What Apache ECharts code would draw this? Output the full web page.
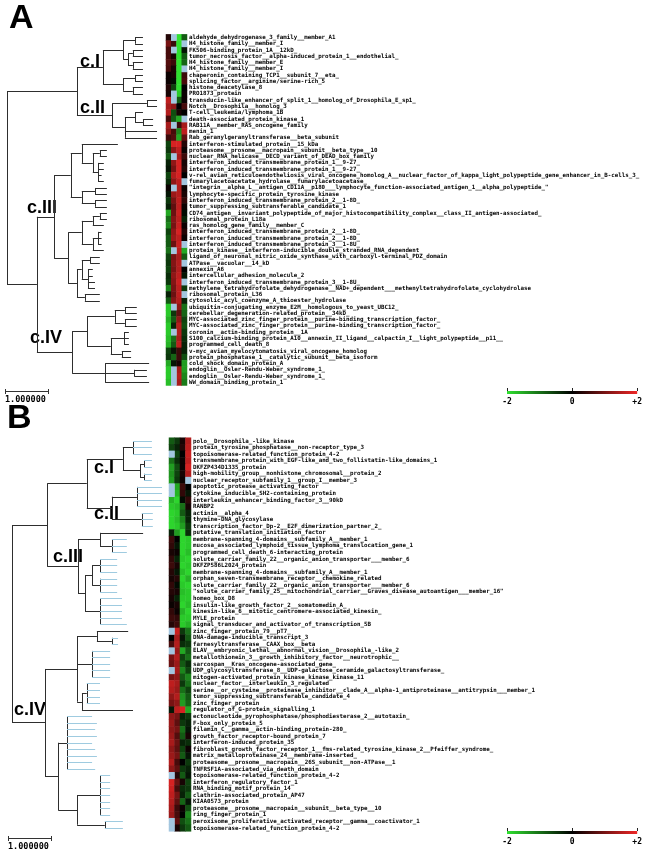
<!DOCTYPE html>
<html><head><meta charset="utf-8">
<script src="https://cdn.jsdelivr.net/npm/echarts@6/dist/echarts.min.js"></script>
<style>html,body{margin:0;padding:0;background:#fff}#c{width:645px;height:853px}</style>
</head><body><div id="c"></div>
<script>
// ---------------- DATA ----------------
const genesA = [
"aldehyde_dehydrogenase_3_family__member_A1","H4_histone_family__member_I","FK506-binding_protein_1A__12kD_",
"tumor_necrosis_factor__alpha-induced_protein_1__endothelial_","H4_histone_family__member_E","H4_histone_family__member_I",
"chaperonin_containing_TCP1__subunit_7__eta_","splicing_factor__arginine/serine-rich_5","histone_deacetylase_8","PRO1873_protein",
"transducin-like_enhancer_of_split_1__homolog_of_Drosophila_E_sp1_","Notch__Drosophila__homolog_3","T-cell_leukemia/lymphoma_1B",
"death-associated_protein_kinase_1","RAB11A__member_RAS_oncogene_family","menin_1","Rab_geranylgeranyltransferase__beta_subunit",
"interferon-stimulated_protein__15_kDa","proteasome__prosome__macropain__subunit__beta_type__10",
"nuclear_RNA_helicase__DECD_variant_of_DEAD_box_family","interferon_induced_transmembrane_protein_1__9-27_",
"interferon_induced_transmembrane_protein_1__9-27_",
"v-rel_avian_reticuloendotheliosis_viral_oncogene_homolog_A__nuclear_factor_of_kappa_light_polypeptide_gene_enhancer_in_B-cells_3_",
"fumarylacetoacetate_hydrolase__fumarylacetoacetase_",
"\"integrin__alpha_L__antigen_CD11A__p180___lymphocyte_function-associated_antigen_1__alpha_polypeptide_\"",
"lymphocyte-specific_protein_tyrosine_kinase","interferon_induced_transmembrane_protein_2__1-8D_",
"tumor_suppressing_subtransferable_candidate_1",
"CD74_antigen__invariant_polypeptide_of_major_histocompatibility_complex__class_II_antigen-associated_",
"ribosomal_protein_L18a","ras_homolog_gene_family__member_C","interferon_induced_transmembrane_protein_2__1-8D_",
"interferon_induced_transmembrane_protein_2__1-8D_","interferon_induced_transmembrane_protein_3__1-8U_",
"protein_kinase__interferon-inducible_double_stranded_RNA_dependent",
"ligand_of_neuronal_nitric_oxide_synthase_with_carboxyl-terminal_PDZ_domain","ATPase__vacuolar__14_kD","annexin_A6",
"intercellular_adhesion_molecule_2","interferon_induced_transmembrane_protein_3__1-8U_",
"methylene_tetrahydrofolate_dehydrogenase__NAD+_dependent___methenyltetrahydrofolate_cyclohydrolase",
"ribosomal_protein_L36","cytosolic_acyl_coenzyme_A_thioester_hydrolase",
"ubiquitin-conjugating_enzyme_E2M__homologous_to_yeast_UBC12_","cerebellar_degeneration-related_protein__34kD_",
"MYC-associated_zinc_finger_protein__purine-binding_transcription_factor_",
"MYC-associated_zinc_finger_protein__purine-binding_transcription_factor_","coronin__actin-binding_protein__1A",
"S100_calcium-binding_protein_A10__annexin_II_ligand__calpactin_I__light_polypeptide__p11__","programmed_cell_death_8",
"v-myc_avian_myelocytomatosis_viral_oncogene_homolog","protein_phosphatase_1__catalytic_subunit__beta_isoform",
"cold_shock_domain_protein_A","endoglin__Osler-Rendu-Weber_syndrome_1_","endoglin__Osler-Rendu-Weber_syndrome_1_",
"WW_domain_binding_protein_1"];

const genesB = [
"polo__Drosophila_-like_kinase","protein_tyrosine_phosphatase__non-receptor_type_3","topoisomerase-related_function_protein_4-2",
"transmembrane_protein_with_EGF-like_and_two_follistatin-like_domains_1","DKFZP434D1335_protein",
"high-mobility_group__nonhistone_chromosomal__protein_2","nuclear_receptor_subfamily_1__group_I__member_3",
"apoptotic_protease_activating_factor","cytokine_inducible_SH2-containing_protein","interleukin_enhancer_binding_factor_3__90kD",
"RANBP2","actinin__alpha_4","thymine-DNA_glycosylase","transcription_factor_Dp-2__E2F_dimerization_partner_2_",
"putative_translation_initiation_factor","membrane-spanning_4-domains__subfamily_A__member_1",
"mucosa_associated_lymphoid_tissue_lymphoma_translocation_gene_1","programmed_cell_death_6-interacting_protein",
"solute_carrier_family_22__organic_anion_transporter___member_6","DKFZP586L2024_protein",
"membrane-spanning_4-domains__subfamily_A__member_1","orphan_seven-transmembrane_receptor__chemokine_related",
"solute_carrier_family_22__organic_anion_transporter___member_6",
"\"solute_carrier_family_25__mitochondrial_carrier__Graves_disease_autoantigen___member_16\"","homeo_box_D8",
"insulin-like_growth_factor_2__somatomedin_A_","kinesin-like_6__mitotic_centromere-associated_kinesin_","MYLE_protein",
"signal_transducer_and_activator_of_transcription_5B","zinc_finger_protein_79__pT7_","DNA-damage-inducible_transcript_3",
"farnesyltransferase__CAAX_box__beta","ELAV__embryonic_lethal__abnormal_vision__Drosophila_-like_2",
"metallothionein_3__growth_inhibitory_factor__neurotrophic__","sarcospan__Kras_oncogene-associated_gene_",
"UDP_glycosyltransferase_8__UDP-galactose_ceramide_galactosyltransferase_","mitogen-activated_protein_kinase_kinase_kinase_11",
"nuclear_factor__interleukin_3_regulated",
"serine__or_cysteine__proteinase_inhibitor__clade_A__alpha-1_antiproteinase__antitrypsin___member_1",
"tumor_suppressing_subtransferable_candidate_4","zinc_finger_protein","regulator_of_G-protein_signalling_1",
"ectonucleotide_pyrophosphatase/phosphodiesterase_2__autotaxin_","F-box_only_protein_5",
"filamin_C__gamma__actin-binding_protein-280_","growth_factor_receptor-bound_protein_7","interferon-induced_protein_35",
"fibroblast_growth_factor_receptor_1__fms-related_tyrosine_kinase_2__Pfeiffer_syndrome_",
"matrix_metalloproteinase_24__membrane-inserted_","proteasome__prosome__macropain__26S_subunit__non-ATPase__1",
"TNFRSF1A-associated_via_death_domain","topoisomerase-related_function_protein_4-2","interferon_regulatory_factor_1",
"RNA_binding_motif_protein_14","clathrin-associated_protein_AP47","KIAA0573_protein",
"proteasome__prosome__macropain__subunit__beta_type__10","ring_finger_protein_1",
"peroxisome_proliferative_activated_receptor__gamma__coactivator_1","topoisomerase-related_function_protein_4-2"];

// log ratios per row, 4 columns; null = missing (light blue)
const heatA = [
[0.3,null,-2,-0.8],[1.0,0.5,-2,null],[0.6,null,-2,-0.2],[0.6,0.2,-2,-0.8],[0.7,0.5,-2,-0.9],[0.6,0.2,-2,null],
[0.1,0.2,-2,0.5],[0.1,-0.1,-2,0.6],[0.3,-0.6,-2,0],[0.2,null,-1.8,0.1],[1.6,null,-0.8,0.1],[1.4,1.2,0,0.6],
[1.5,-0.7,0.2,0],[0.6,-0.8,-1.5,null],[1.4,null,0.5,1.4],[1.2,0.6,-1.2,1.6],[0.5,0.7,-1.5,0.8],
[-0.6,1.8,1.8,0.3],[-0.5,1.2,1.6,0.1],[-0.8,null,1.4,0.5],[-0.3,1.2,1.8,0.2],[-0.2,1.0,1.8,0.3],[-0.6,1.5,1.8,0],
[-0.4,1.2,1.6,null],[0.1,null,1.5,0.1],[-0.2,1.3,1.5,0.2],[-0.5,1.0,1.6,0.4],[-0.3,0.8,1.6,0.1],[-1.5,0.9,1.7,-0.1],
[-1.0,1.1,1.6,-0.3],[-1.2,1.0,1.7,0.1],[-0.6,1.2,1.8,0.3],[-0.8,1.3,1.6,0.1],[-0.8,0.9,1.7,null],[-1.0,null,1.6,-1.5],
[-0.6,1.0,1.4,-0.8],[-0.5,1.1,1.5,null],[-0.6,1.0,1.5,0],[-0.4,1.2,1.6,-0.2],[-0.5,1.1,1.7,null],[-1.2,1.0,1.6,-0.5],
[-0.3,0.9,1.6,null],[-0.8,1.1,1.5,-0.3],[-1.8,null,1.2,-1.0],[-1.8,-0.5,0.8,-0.9],[-1.6,-0.8,1.2,-0.6],[-1.8,-0.3,1.5,-0.7],
[-1.8,null,1.5,-0.5],[-1.7,-1.0,1.4,-0.4],[-1.6,-0.8,1.6,-0.3],[-0.6,-0.2,0.5,-0.3],[-0.5,-0.9,0.5,-0.7],[-1.5,-0.2,0.2,-1.4],
[-1.8,null,1.4,-1.4],[-1.8,null,1.5,-1.2],[-1.7,null,1.4,-1.1]];

const heatB = [
[-0.8,-0.5,0.2,1.5],[-0.6,-0.3,0.3,1.6],[null,-0.6,0.0,1.7],[-1.0,-0.4,0.1,1.6],[-1.4,-0.7,0.1,1.8],[-1.3,-0.6,0.2,1.5],
[-1.4,-0.5,0.1,null],[null,-1.5,0.5,0.0],[null,-1.6,0.4,-0.2],[-1.6,-1.9,-0.1,0.4],[-1.8,-1.7,-1.0,0.2],[-1.9,-1.8,-0.8,-0.3],
[-1.9,-1.7,-1.2,-0.3],[-1.9,-1.8,-1.4,-0.5],[-0.3,-1.4,-1.9,-0.4],[0.5,0.0,-1.9,-1.8],[0.4,-0.2,-1.9,-1.8],[0.2,0.1,-1.9,-1.7],
[0.4,-0.3,-1.8,-1.9],[0.5,0.2,-1.9,-1.8],[0.3,-0.2,-1.7,-1.9],[0.2,0.3,-1.9,-1.6],[0.4,-0.1,-1.8,-1.9],[0.3,0.2,-1.7,-1.8],
[0.2,-0.3,-1.8,-1.8],[0.1,0.2,-1.9,-1.7],[0.4,0.1,-1.6,-1.9],[0.5,0.4,-1.8,-1.8],[0.3,0.5,-1.8,-1.6],[null,1.7,-0.5,-1.0],
[0.0,1.4,-0.2,-0.8],[0.6,1.5,-0.4,-0.5],[null,1.3,-1.5,-0.8],[1.0,1.5,-0.6,-1.0],[0.9,1.3,-0.8,-0.4],[null,1.4,-1.2,-0.6],
[1.0,1.2,-0.8,-1.2],[1.6,1.4,-0.5,-1.0],[1.5,1.3,-1.0,-0.6],[1.2,1.5,-1.3,-0.8],[1.0,1.2,-1.4,-0.9],[-0.2,1.6,1.8,-1.5],
[1.2,1.0,-0.3,-0.5],[1.3,0.8,-0.5,-0.3],[1.2,1.0,-1.0,-0.2],[1.3,0.7,-0.8,0.2],[1.4,0.9,-0.3,-0.4],[1.2,0.8,-0.6,0.1],
[1.3,1.0,-0.8,-0.2],[1.5,0.6,0.0,-0.5],[1.2,0.8,-0.5,-0.3],[null,0.3,-0.8,-0.2],[1.8,0.9,0.2,-0.6],[1.7,0.6,-0.4,-0.5],
[1.6,1.0,-0.3,-0.8],[1.5,0.8,-0.9,-0.2],[1.4,0.5,0.1,-0.7],[1.3,0.6,0.0,-1.2],[null,0.8,-0.7,-1.0],[null,0.2,-0.5,-0.8]];

// dendrograms: internal node = [distance, ...children], leaf = tip distance (leaves in row order)
const treeA = [0,
 [1.59,
  [2.18,
   [2.64, [2.91, 3.09, 3.09], [2.75, [2.86, 3.09, 3.09], [2.86, 3.09, 3.09]]],
   [2.64, [2.91, 3.09, 3.09], [2.86, 3.09, 3.09]]],
  [2.39,
   [3.18, 3.41, 3.41],
   [2.68, [2.91, 3.09, [3.09, 3.32, 3.32]], 3.41, 3.41]]],
 [0.68,
  [1.07,
   [1.45,
    [1.70, 2.52, [1.95, [2.11, 2.27, 2.27], [2.07, 2.2, 2.2, 2.15, 2.2]]],
    [1.70, [2.0, 2.27, 2.27], [2.0, 2.27, 2.27]]],
   [1.39,
    [1.70, [1.95, [2.11, 2.27, 2.27], 2.2], [1.95, [2.07, 2.15, 2.15, 2.15], 2.2]],
    [1.59, [1.70, [1.89, 2.11, 2.11], [1.84, 1.95, 1.95, 2.0, 2.0]], [1.77, 2.11, 2.11]]]],
  [1.48,
   [1.82, [2.45, [2.68, 2.95, 2.95], [2.68, 2.95, 2.95]], [2.36, [2.66, 2.77, 2.77, 2.77], [2.61, 2.82, 2.82]]],
   [2.23, 3.23, [2.89, 3.18, 3.18], 3.23]]]];

const treeB = [0,
 [0.80,
  [1.70,
   [2.52, [2.75, 3.18, 3.18, 3.18], [2.91, [3.0, 3.18, 3.18], [3.0, 3.18, 3.18]]],
   [2.27, [2.84, 3.41, 3.41, 3.41, 3.41], [2.5, [2.95, 3.2, 3.2, 3.2]]]],
  [1.50,
   [2.0, 2.98, [2.27, 2.61, 2.61, 2.61]],
   [1.66, [1.82, [2.0, 2.39, 2.39, 2.39], [2.0, 2.39, 2.39, 2.39]], [2.0, 2.5, 2.5, 2.5, 2.5, 2.61]]]],
 [0.75,
  [1.48,
   [1.93, 2.64, [2.27, 2.41, 2.41]],
   [1.82, 2.23, 2.23, 2.23, 2.23, 2.23],
   [1.59, [1.70, 2.0, 2.0, 2.0, 2.0], 2.75]],
  [1.05,
   [1.25, 1.82, 1.93, 1.89, 1.93, 1.82, 1.89, 1.93, 1.82, 1.89],
   [1.48, [2.0, 2.23, 2.23, 2.23, 2.23, 2.23, 2.23, 2.23], [2.11, 2.52, 2.52]]]]];
const darkLeavesB = [14, 29, 41];

const columnsA = ["1","2","3","4"];
const columnsB = ["1","2","3","4"];
const colorTicks = [-2, 0, 2];
const scaleLabel = "1.000000";

// ---------------- BUILD ----------------
const GREEN = '#2fe02f', RED = '#ee2626', NA = '#a3c6df';
function buildSegs(tree, leafColor, darkLeaves) {
  const segs = [];
  let idx = 0;
  function walk(node) {
    if (typeof node === 'number') { const y = idx++; return {x: node, y, leaf: true}; }
    const x = node[0];
    const kids = node.slice(1).map(walk);
    const y0 = kids[0].y, y1 = kids[kids.length - 1].y;
    segs.push({coords: [[x, y0], [x, y1]]});
    kids.forEach(k => {
      const s = {coords: [[x, k.y], [k.x, k.y]]};
      if (k.leaf && leafColor && !(darkLeaves || []).includes(k.y)) s.lineStyle = {color: leafColor};
      segs.push(s);
    });
    return {x, y: (y0 + y1) / 2};
  }
  walk(tree);
  return segs;
}
function heatData(h, missing) {
  const out = [];
  h.forEach((row, r) => row.forEach((v, c) => {
    if (missing ? v === null : v !== null) out.push([c, r, missing ? 0 : v]);
  }));
  return out;
}
const segsA = buildSegs(treeA, null);
const segsB = buildSegs(treeB, '#9fcbe0', darkLeavesB);

const rowA = 6.27, rowB = 6.56;
const topA = 37.5 - rowA / 2, topB = 441 - rowB / 2;
const hA = genesA.length * rowA, hB = genesB.length * rowB;
const labelFont = {fontSize: 5.8, fontFamily: 'DejaVu Sans Mono', fontWeight: 'bold', color: '#000', margin: 2, interval: 0, hideOverlap: false};

const chart = echarts.init(document.getElementById('c'), null, {renderer: 'canvas'});
const hid = {show: false};
const cbLabel = {fontSize: 8, fontFamily: 'DejaVu Sans Mono', fontWeight: 'bold', color: '#000', margin: 4,
  formatter: v => v > 0 ? '+' + v : String(v)};
const clusterFont = 'bold 18px "Liberation Sans", Arial';
const option = {
  animation: false,
  backgroundColor: '#fff',
  grid: [
    {left: 7, top: topA, width: 158, height: hA},
    {left: 166, top: topA, width: 21, height: hA},
    {left: 12, top: topB, width: 153, height: hB},
    {left: 169, top: topB, width: 22, height: hB},
    {left: 507, top: 391, width: 131, height: 3},
    {left: 507, top: 831, width: 131, height: 3}
  ],
  xAxis: [
    {gridIndex: 0, type: 'value', min: 0, max: 158 / 44, show: false},
    {gridIndex: 1, type: 'category', data: columnsA, show: false},
    {gridIndex: 2, type: 'value', min: 0, max: 153 / 44, show: false},
    {gridIndex: 3, type: 'category', data: columnsB, show: false},
    {gridIndex: 4, type: 'value', min: -2, max: 2, interval: 2, position: 'bottom',
     axisLine: hid, axisTick: hid, splitLine: hid, axisLabel: cbLabel},
    {gridIndex: 5, type: 'value', min: -2, max: 2, interval: 2, position: 'bottom',
     axisLine: hid, axisTick: hid, splitLine: hid, axisLabel: cbLabel},
    {gridIndex: 4, type: 'value', min: -2, max: 2, interval: 2, position: 'top', axisLine: hid, splitLine: hid,
     axisLabel: hid, axisTick: {show: true, length: 3, lineStyle: {color: '#222'}}},
    {gridIndex: 5, type: 'value', min: -2, max: 2, interval: 2, position: 'top', axisLine: hid, splitLine: hid,
     axisLabel: hid, axisTick: {show: true, length: 3, lineStyle: {color: '#222'}}}
  ],
  yAxis: [
    {gridIndex: 0, type: 'value', min: -0.5, max: genesA.length - 0.5, inverse: true, show: false},
    {gridIndex: 1, type: 'category', data: genesA, inverse: true, position: 'right',
     axisLine: hid, axisTick: hid, axisLabel: labelFont},
    {gridIndex: 2, type: 'value', min: -0.5, max: genesB.length - 0.5, inverse: true, show: false},
    {gridIndex: 3, type: 'category', data: genesB, inverse: true, position: 'right',
     axisLine: hid, axisTick: hid, axisLabel: labelFont},
    {gridIndex: 4, type: 'value', min: 0, max: 1, show: false},
    {gridIndex: 5, type: 'value', min: 0, max: 1, show: false}
  ],
  visualMap: {show: false, min: -2, max: 2, seriesIndex: [1, 4], inRange: {color: [GREEN, '#000000', RED]}},
  series: [
    {type: 'lines', coordinateSystem: 'cartesian2d', xAxisIndex: 0, yAxisIndex: 0, polyline: false, silent: true,
     lineStyle: {color: '#2e2e2e', width: 1, opacity: 1}, data: segsA},
    {type: 'heatmap', xAxisIndex: 1, yAxisIndex: 1, data: heatData(heatA, false), silent: true},
    {type: 'heatmap', xAxisIndex: 1, yAxisIndex: 1, data: heatData(heatA, true), itemStyle: {color: NA}, silent: true},
    {type: 'lines', coordinateSystem: 'cartesian2d', xAxisIndex: 2, yAxisIndex: 2, polyline: false, silent: true,
     lineStyle: {color: '#2e2e2e', width: 1, opacity: 1}, data: segsB},
    {type: 'heatmap', xAxisIndex: 3, yAxisIndex: 3, data: heatData(heatB, false), silent: true},
    {type: 'heatmap', xAxisIndex: 3, yAxisIndex: 3, data: heatData(heatB, true), itemStyle: {color: NA}, silent: true},
    ...[4, 5].map(g => ({type: 'custom', xAxisIndex: g, yAxisIndex: g, silent: true, data: [[colorTicks[0], 0]],
      renderItem: (params, api) => {
        const p0 = api.coord([colorTicks[0], 0]), p1 = api.coord([colorTicks[2], 1]);
        return {type: 'rect', shape: {x: p0[0], y: p1[1], width: p1[0] - p0[0], height: p0[1] - p1[1]},
          style: {fill: new echarts.graphic.LinearGradient(0, 0, 1, 0, [
            {offset: 0, color: GREEN}, {offset: 0.5, color: '#000'}, {offset: 1, color: RED}])}};
      }}))
  ],
  graphic: [
    {type: 'text', left: 9, top: 2, style: {text: 'A', font: 'bold 34px "Liberation Sans", Arial', fill: '#000'}},
    {type: 'text', left: 7, top: 402, style: {text: 'B', font: 'bold 34px "Liberation Sans", Arial', fill: '#000'}},
    {type: 'text', x: 80, y: 62, style: {text: 'c.I', font: clusterFont, fill: '#000', verticalAlign: 'middle'}},
    {type: 'text', x: 80, y: 108, style: {text: 'c.II', font: clusterFont, fill: '#000', verticalAlign: 'middle'}},
    {type: 'text', x: 27, y: 208, style: {text: 'c.III', font: clusterFont, fill: '#000', verticalAlign: 'middle'}},
    {type: 'text', x: 30, y: 338, style: {text: 'c.IV', font: clusterFont, fill: '#000', verticalAlign: 'middle'}},
    {type: 'text', x: 94, y: 468, style: {text: 'c.I', font: clusterFont, fill: '#000', verticalAlign: 'middle'}},
    {type: 'text', x: 94, y: 514, style: {text: 'c.II', font: clusterFont, fill: '#000', verticalAlign: 'middle'}},
    {type: 'text', x: 53, y: 557, style: {text: 'c.III', font: clusterFont, fill: '#000', verticalAlign: 'middle'}},
    {type: 'text', x: 14, y: 710, style: {text: 'c.IV', font: clusterFont, fill: '#000', verticalAlign: 'middle'}},
    // scale bars
    {type: 'line', shape: {x1: 5, y1: 391.5, x2: 49, y2: 391.5}, style: {stroke: '#333', lineWidth: 1}},
    {type: 'line', shape: {x1: 5.5, y1: 389, x2: 5.5, y2: 394}, style: {stroke: '#333', lineWidth: 1}},
    {type: 'line', shape: {x1: 48.5, y1: 389, x2: 48.5, y2: 394}, style: {stroke: '#333', lineWidth: 1}},
    {type: 'text', x: 5, y: 395, style: {text: scaleLabel, font: 'bold 8.5px "DejaVu Sans Mono"', fill: '#000'}},
    {type: 'line', shape: {x1: 8, y1: 838.5, x2: 52, y2: 838.5}, style: {stroke: '#333', lineWidth: 1}},
    {type: 'line', shape: {x1: 8.5, y1: 836, x2: 8.5, y2: 841}, style: {stroke: '#333', lineWidth: 1}},
    {type: 'line', shape: {x1: 51.5, y1: 836, x2: 51.5, y2: 841}, style: {stroke: '#333', lineWidth: 1}},
    {type: 'text', x: 8, y: 842, style: {text: scaleLabel, font: 'bold 8.5px "DejaVu Sans Mono"', fill: '#000'}}
  ]
};
chart.setOption(option);
</script></body></html>
